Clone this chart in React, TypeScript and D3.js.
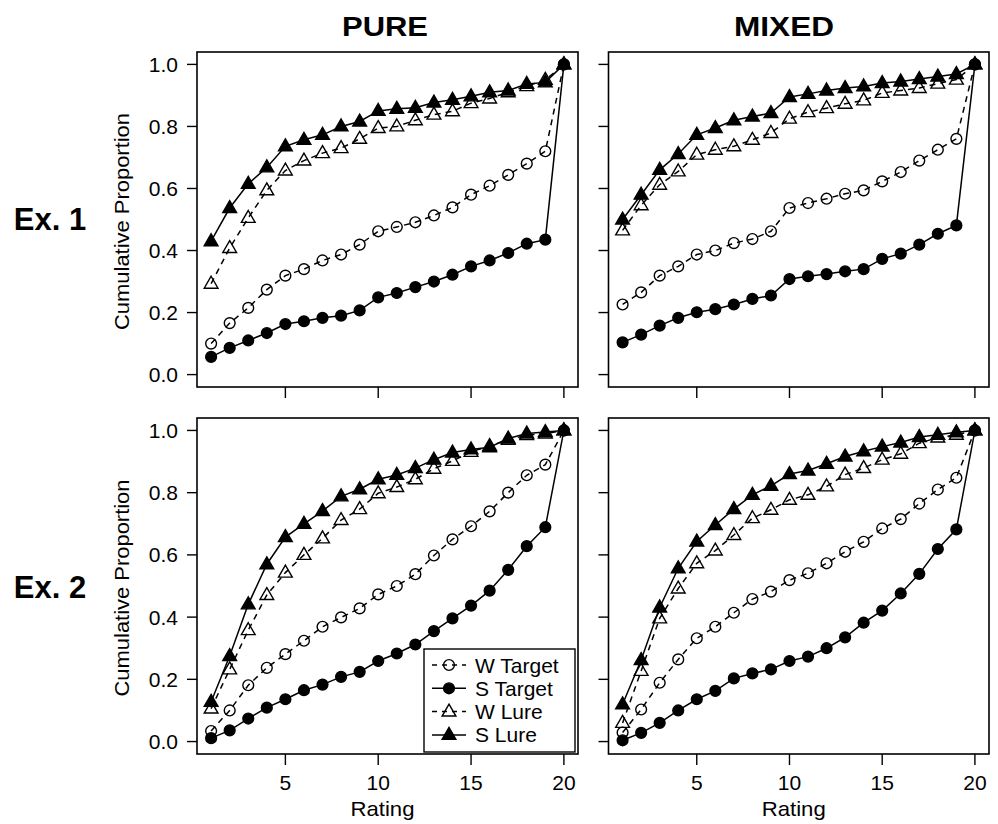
import React from "react";
import * as d3 from "d3";

// rating categories (x axis)
const ratings = [1, 2, 3, 4, 5, 6, 7, 8, 9, 10, 11, 12, 13, 14, 15, 16, 17, 18, 19, 20];
const xTicks = [5, 10, 15, 20];
const yTicks = [0, 0.2, 0.4, 0.6, 0.8, 1.0];
const columnTitles = ["PURE", "MIXED"];
const rowTitles = ["Ex. 1", "Ex. 2"];
const seriesNames = ["W Target", "S Target", "W Lure", "S Lure"];

// Ex. 1, PURE
const pureEx1WTarget = [0.10, 0.166, 0.215, 0.274, 0.319, 0.34, 0.368, 0.387, 0.419, 0.462, 0.476, 0.491, 0.513, 0.539, 0.58, 0.609, 0.644, 0.68, 0.72, 1.0];
const pureEx1STarget = [0.057, 0.086, 0.11, 0.134, 0.163, 0.172, 0.183, 0.19, 0.207, 0.249, 0.263, 0.282, 0.30, 0.322, 0.349, 0.368, 0.392, 0.422, 0.435, 1.0];
const pureEx1WLure = [0.293, 0.408, 0.505, 0.594, 0.658, 0.69, 0.714, 0.73, 0.76, 0.795, 0.80, 0.82, 0.838, 0.849, 0.875, 0.89, 0.91, 0.93, 0.95, 1.0];
const pureEx1SLure = [0.43, 0.537, 0.615, 0.668, 0.736, 0.757, 0.773, 0.80, 0.816, 0.85, 0.857, 0.86, 0.877, 0.886, 0.897, 0.91, 0.916, 0.937, 0.942, 1.0];

// Ex. 1, MIXED
const mixedEx1WTarget = [0.226, 0.265, 0.319, 0.349, 0.387, 0.40, 0.424, 0.437, 0.462, 0.537, 0.553, 0.567, 0.583, 0.594, 0.623, 0.653, 0.69, 0.725, 0.76, 1.0];
const mixedEx1STarget = [0.104, 0.129, 0.158, 0.183, 0.201, 0.211, 0.226, 0.244, 0.255, 0.308, 0.317, 0.324, 0.333, 0.34, 0.373, 0.39, 0.419, 0.454, 0.481, 1.0];
const mixedEx1WLure = [0.465, 0.546, 0.612, 0.655, 0.709, 0.725, 0.736, 0.757, 0.779, 0.825, 0.846, 0.859, 0.873, 0.884, 0.908, 0.916, 0.924, 0.938, 0.951, 1.0];
const mixedEx1SLure = [0.50, 0.58, 0.66, 0.711, 0.773, 0.795, 0.82, 0.832, 0.843, 0.895, 0.905, 0.916, 0.924, 0.929, 0.94, 0.945, 0.953, 0.961, 0.969, 1.0];

// Ex. 2, PURE
const pureEx2WTarget = [0.034, 0.10, 0.181, 0.237, 0.281, 0.324, 0.369, 0.399, 0.428, 0.473, 0.50, 0.538, 0.598, 0.65, 0.692, 0.74, 0.80, 0.856, 0.89, 1.0];
const pureEx2STarget = [0.011, 0.036, 0.074, 0.109, 0.136, 0.165, 0.183, 0.208, 0.224, 0.259, 0.283, 0.312, 0.355, 0.396, 0.437, 0.485, 0.552, 0.628, 0.689, 1.0];
const pureEx2WLure = [0.106, 0.232, 0.358, 0.471, 0.543, 0.60, 0.653, 0.712, 0.747, 0.798, 0.818, 0.843, 0.877, 0.902, 0.931, 0.95, 0.97, 0.985, 0.99, 1.0];
const pureEx2SLure = [0.128, 0.275, 0.441, 0.57, 0.657, 0.70, 0.741, 0.788, 0.811, 0.843, 0.857, 0.879, 0.906, 0.929, 0.939, 0.946, 0.974, 0.99, 0.995, 1.0];

// Ex. 2, MIXED
const mixedEx2WTarget = [0.029, 0.103, 0.189, 0.264, 0.332, 0.369, 0.414, 0.458, 0.482, 0.519, 0.541, 0.573, 0.61, 0.642, 0.685, 0.715, 0.765, 0.81, 0.848, 1.0];
const mixedEx2STarget = [0.004, 0.028, 0.06, 0.10, 0.136, 0.163, 0.203, 0.219, 0.232, 0.259, 0.273, 0.30, 0.335, 0.382, 0.421, 0.476, 0.539, 0.619, 0.682, 1.0];
const mixedEx2WLure = [0.06, 0.227, 0.396, 0.492, 0.573, 0.614, 0.664, 0.718, 0.745, 0.777, 0.793, 0.82, 0.858, 0.879, 0.906, 0.925, 0.959, 0.977, 0.986, 1.0];
const mixedEx2SLure = [0.12, 0.262, 0.431, 0.557, 0.643, 0.696, 0.747, 0.793, 0.822, 0.86, 0.871, 0.893, 0.916, 0.933, 0.948, 0.961, 0.979, 0.986, 0.994, 1.0];

const FONT = "'Liberation Sans', Arial, Helvetica, sans-serif";

// series styles: dashed + open for W, solid + filled for S
const styles = [
  { dashed: true, shape: "circle", filled: false },
  { dashed: false, shape: "circle", filled: true },
  { dashed: true, shape: "triangle", filled: false },
  { dashed: false, shape: "triangle", filled: true },
];

const triPath = d3.symbol(d3.symbolTriangle).size(82)();

function Marker({ x, y, shape, filled }) {
  if (shape === "circle") {
    return <circle cx={x} cy={y} r={5.4} fill={filled ? "#000" : "none"} stroke="#000" strokeWidth={1.4} />;
  }
  return (
    <path d={triPath} transform={`translate(${x},${y + 0.5})`} fill={filled ? "#000" : "none"} stroke="#000" strokeWidth={1.4} />
  );
}

function Panel({ box, series, showYLabels, showXLabels, legend }) {
  const [x0, y0, x1, y1] = box;
  const xScale = d3.scaleLinear().domain([0.24, 20.76]).range([x0, x1]);
  const yScale = d3.scaleLinear().domain([-0.04, 1.04]).range([y1, y0]);
  const line = d3
    .line<number>()
    .x((d, i) => xScale(ratings[i]))
    .y((d) => yScale(d));

  return (
    <g>
      {series.map((vals, s) => (
        <g key={s}>
          <path
            d={line(vals) || ""}
            fill="none"
            stroke="#000"
            strokeWidth={1.5}
            strokeDasharray={styles[s].dashed ? "6,5" : undefined}
          />
          {vals.map((v, i) => (
            <Marker key={i} x={xScale(ratings[i])} y={yScale(v)} shape={styles[s].shape} filled={styles[s].filled} />
          ))}
        </g>
      ))}
      <rect x={x0} y={y0} width={x1 - x0} height={y1 - y0} fill="none" stroke="#000" strokeWidth={1.6} />
      {yTicks.map((t) => (
        <g key={t}>
          <line x1={x0 - 10} x2={x0} y1={yScale(t)} y2={yScale(t)} stroke="#000" strokeWidth={1.4} />
          {showYLabels && (
            <text x={x0 - 19} y={yScale(t) + 7.5} textAnchor="end" fontSize={21} fontFamily={FONT}>
              {t.toFixed(1)}
            </text>
          )}
        </g>
      ))}
      {xTicks.map((t) => (
        <g key={t}>
          <line x1={xScale(t)} x2={xScale(t)} y1={y1} y2={y1 + 11} stroke="#000" strokeWidth={1.4} />
          {showXLabels && (
            <text x={xScale(t)} y={y1 + 36} textAnchor="middle" fontSize={21} fontFamily={FONT}>
              {t}
            </text>
          )}
        </g>
      ))}
      {showXLabels && (
        <text
          x={(x0 + x1) / 2 - 5}
          y={y1 + 62}
          textAnchor="middle"
          fontSize={21}
          fontFamily={FONT}
          textLength={64}
          lengthAdjust="spacingAndGlyphs"
        >
          Rating
        </text>
      )}
      {showYLabels && (
        <text
          transform={`translate(${x0 - 68},${(y0 + y1) / 2 + 2}) rotate(-90)`}
          textAnchor="middle"
          fontSize={21}
          fontFamily={FONT}
          textLength={217}
          lengthAdjust="spacingAndGlyphs"
        >
          Cumulative Proportion
        </text>
      )}
      {legend && (
        <g>
          <rect x={424} y={649} width={151} height={103} fill="#fff" stroke="#000" strokeWidth={1.4} />
          {seriesNames.map((name, k) => {
            const ly = 665 + k * 23.3;
            return (
              <g key={name}>
                <line
                  x1={432}
                  x2={466}
                  y1={ly}
                  y2={ly}
                  stroke="#000"
                  strokeWidth={1.5}
                  strokeDasharray={styles[k].dashed ? "5,5" : undefined}
                />
                <Marker x={449} y={ly} shape={styles[k].shape} filled={styles[k].filled} />
                <text x={475} y={ly + 7.5} fontSize={21} fontFamily={FONT}>
                  {name}
                </text>
              </g>
            );
          })}
        </g>
      )}
    </g>
  );
}

export default function App() {
  const leftX: [number, number] = [197, 578];
  const rightX: [number, number] = [608.5, 989];
  const topY: [number, number] = [52, 387];
  const botY: [number, number] = [418, 754];

  return (
    <svg width={998} height={824} style={{ display: "block", position: "absolute", left: 0, top: 0, background: "#fff" }}>
      <text x={385} y={36} textAnchor="middle" fontSize={27} fontWeight="bold" fontFamily={FONT} textLength={86} lengthAdjust="spacingAndGlyphs">
        {columnTitles[0]}
      </text>
      <text x={784} y={36} textAnchor="middle" fontSize={27} fontWeight="bold" fontFamily={FONT} textLength={100} lengthAdjust="spacingAndGlyphs">
        {columnTitles[1]}
      </text>
      <text x={50} y={230} textAnchor="middle" fontSize={31} fontWeight="bold" fontFamily={FONT}>
        {rowTitles[0]}
      </text>
      <text x={50} y={598} textAnchor="middle" fontSize={31} fontWeight="bold" fontFamily={FONT}>
        {rowTitles[1]}
      </text>

      <Panel
        box={[leftX[0], topY[0], leftX[1], topY[1]]}
        series={[pureEx1WTarget, pureEx1STarget, pureEx1WLure, pureEx1SLure]}
        showYLabels
        showXLabels={false}
      />
      <Panel
        box={[rightX[0], topY[0], rightX[1], topY[1]]}
        series={[mixedEx1WTarget, mixedEx1STarget, mixedEx1WLure, mixedEx1SLure]}
        showYLabels={false}
        showXLabels={false}
      />
      <Panel
        box={[leftX[0], botY[0], leftX[1], botY[1]]}
        series={[pureEx2WTarget, pureEx2STarget, pureEx2WLure, pureEx2SLure]}
        showYLabels
        showXLabels
        legend
      />
      <Panel
        box={[rightX[0], botY[0], rightX[1], botY[1]]}
        series={[mixedEx2WTarget, mixedEx2STarget, mixedEx2WLure, mixedEx2SLure]}
        showYLabels={false}
        showXLabels
      />
    </svg>
  );
}
